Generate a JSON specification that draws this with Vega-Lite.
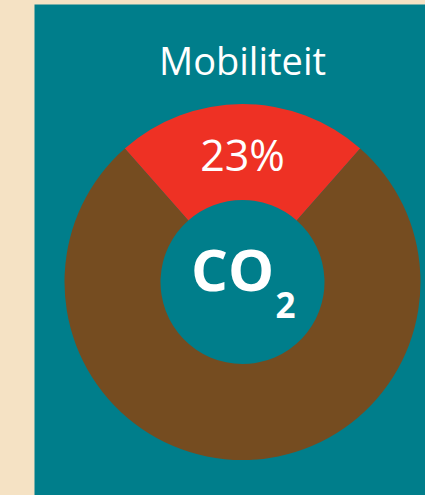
{
  "$schema": "https://vega.github.io/schema/vega-lite/v6.json",
  "width": 417,
  "height": 556,
  "padding": {"left": 34, "top": 4, "right": 0, "bottom": 0},
  "autosize": {"type": "none"},
  "background": "#f5e2c4",
  "view": {"fill": "#007e8b", "stroke": "transparent"},
  "config": {"font": "Open Sans"},
  "datasets": {
    "share": [
      {"cat": "Mobiliteit", "value": 23, "o": 1, "label": "23%"},
      {"cat": "Overig", "value": 77, "o": 2, "label": ""}
    ]
  },
  "layer": [
    {
      "data": {"name": "share"},
      "mark": {"type": "arc", "outerRadius": 178, "innerRadius": 82, "stroke": null},
      "encoding": {
        "theta": {"field": "value", "type": "quantitative", "stack": true, "scale": {"range": [-0.7226, 5.5606]}},
        "order": {"field": "o"},
        "color": {"field": "cat", "type": "nominal", "scale": {"domain": ["Mobiliteit", "Overig"], "range": ["#ee3124", "#754c20"]}, "legend": null}
      }
    },
    {
      "data": {"name": "share"},
      "mark": {"type": "text", "radius": 124, "fontSize": 43, "color": "white", "baseline": "middle"},
      "encoding": {
        "theta": {"field": "value", "type": "quantitative", "stack": true},
        "order": {"field": "o"},
        "text": {"field": "label"}
      }
    },
    {
      "data": {"values": [{"t": "Mobiliteit"}]},
      "mark": {"type": "text", "fontSize": 38, "color": "white", "dy": -218},
      "encoding": {"text": {"field": "t"}}
    },
    {
      "data": {"values": [{"t": "CO"}]},
      "mark": {"type": "text", "fontSize": 58, "fontWeight": "bold", "color": "white", "dx": -10, "dy": -8},
      "encoding": {"text": {"field": "t"}}
    },
    {
      "data": {"values": [{"t": "2"}]},
      "mark": {"type": "text", "fontSize": 35, "fontWeight": "bold", "color": "white", "dx": 43, "dy": 25},
      "encoding": {"text": {"field": "t"}}
    }
  ]
}
